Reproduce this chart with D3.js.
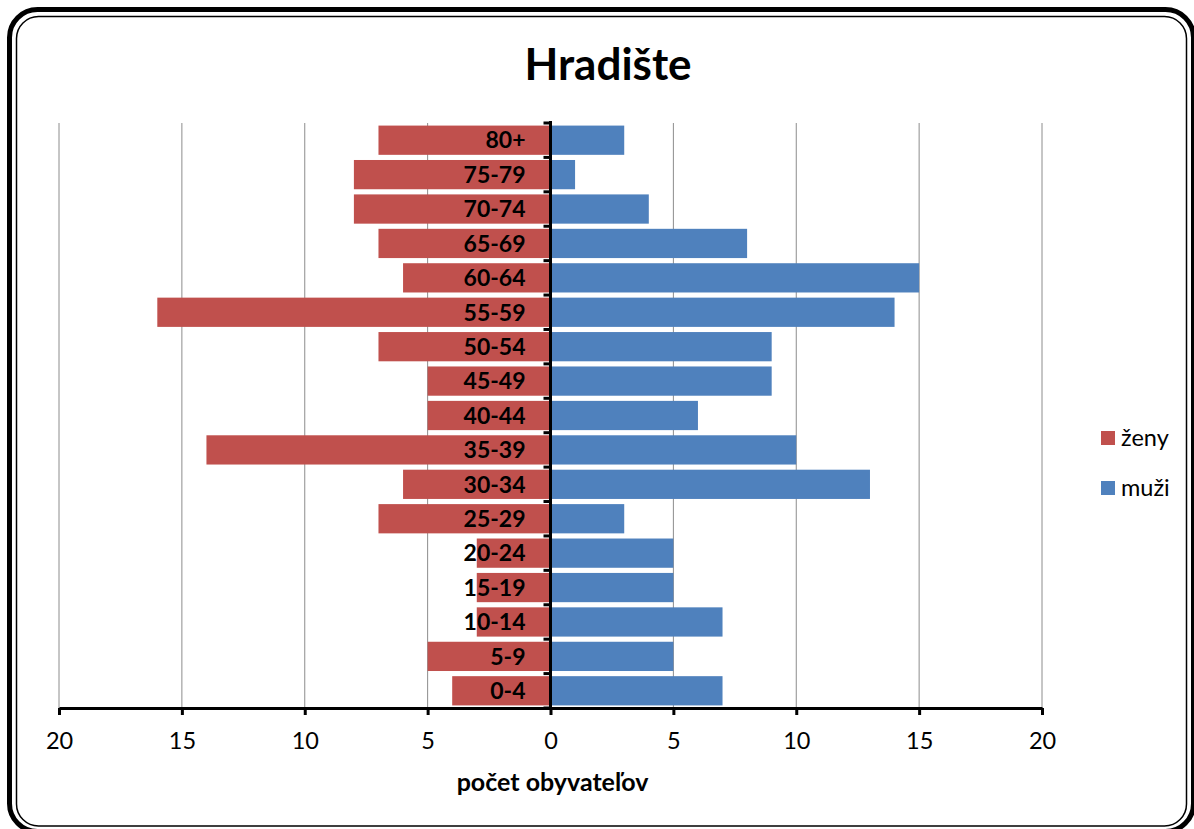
<!DOCTYPE html>
<html lang="sk">
<head>
  <meta charset="UTF-8">
  <title>Hradište</title>
  <style>
    body { margin: 0; background: #fff; }
    svg text { font-family: Lato, "Open Sans", sans-serif; fill: #000; }
    .grid line { stroke: #8c8c8c; stroke-width: 1; }
    .cat-label { font-size: 23px; font-weight: bold; }
  </style>
</head>
<body>
  <div id="chart"></div>
  <script src="https://d3js.org/d3.v7.min.js"></script>
  <script>
    // age groups, top to bottom
    const ageGroups = ["80+", "75-79", "70-74", "65-69", "60-64", "55-59", "50-54", "45-49",
      "40-44", "35-39", "30-34", "25-29", "20-24", "15-19", "10-14", "5-9", "0-4"];
    const zeny = [7, 8, 8, 7, 6, 16, 7, 5, 5, 14, 6, 7, 3, 3, 3, 5, 4];
    const muzi = [3, 1, 4, 8, 15, 14, 9, 9, 6, 10, 13, 3, 5, 5, 7, 5, 7];
    const xTicks = [-20, -15, -10, -5, 0, 5, 10, 15, 20];
    const seriesNames = ["ženy", "muži"];
    const colors = ["#C0504D", "#4F81BD"];

    const W = 1194, H = 829;
    const plot = { left: 59, right: 1042, top: 123, bottom: 708 };

    const svg = d3.select('#chart').append('svg')
      .attr('width', W).attr('height', H);

    // frame
    svg.append('rect')
      .attr('x', 9.5).attr('y', 9.5).attr('width', 1184).attr('height', 822)
      .attr('rx', 28).attr('fill', 'none').attr('stroke', '#000').attr('stroke-width', 5);
    svg.append('rect')
      .attr('x', 16.5).attr('y', 16.5).attr('width', 1170).attr('height', 809.5)
      .attr('rx', 22).attr('fill', 'none').attr('stroke', '#000').attr('stroke-width', 1.5);

    svg.append('text')
      .attr('x', 608).attr('y', 80)
      .attr('text-anchor', 'middle')
      .style('font-size', '44px').style('font-weight', 'bold')
      .text('Hradište');

    const x = d3.scaleLinear().domain([-20, 20]).range([plot.left, plot.right]);
    const y = d3.scaleBand().domain(ageGroups).range([plot.top, plot.bottom])
      .paddingInner(0.15).paddingOuter(0.075);

    // vertical gridlines
    svg.append('g').attr('class', 'grid')
      .selectAll('line')
      .data(xTicks.filter(d => d !== 0))
      .join('line')
      .attr('x1', d => x(d)).attr('x2', d => x(d))
      .attr('y1', plot.top).attr('y2', plot.bottom);

    const rows = ageGroups.map((g, i) => ({ g, z: zeny[i], m: muzi[i] }));

    svg.append('g').selectAll('rect')
      .data(rows).join('rect')
      .attr('x', d => x(-d.z)).attr('y', d => y(d.g))
      .attr('width', d => x(0) - 1.5 - x(-d.z)).attr('height', y.bandwidth())
      .attr('fill', colors[0]);

    svg.append('g').selectAll('rect')
      .data(rows).join('rect')
      .attr('x', x(0) + 1.5).attr('y', d => y(d.g))
      .attr('width', d => x(d.m) - x(0) - 1.5).attr('height', y.bandwidth())
      .attr('fill', colors[1]);

    // x axis
    const xAxis = svg.append('g').attr('class', 'x-axis')
      .attr('transform', `translate(0,${plot.bottom})`)
      .call(d3.axisBottom(x).tickValues(xTicks).tickFormat(d => Math.abs(d))
        .tickSize(7).tickSizeOuter(0).tickPadding(17));
    xAxis.select('.domain').attr('stroke', '#000').attr('stroke-width', 3);
    xAxis.selectAll('.tick line').attr('stroke', '#000').attr('stroke-width', 3);
    xAxis.selectAll('text').style('font-size', '23.5px').style('font-family', 'Lato, sans-serif');

    // central category axis with ticks at band boundaries
    const cat = svg.append('g');
    cat.append('line')
      .attr('x1', x(0)).attr('x2', x(0))
      .attr('y1', plot.top - 2).attr('y2', plot.bottom)
      .attr('stroke', '#000').attr('stroke-width', 3);
    const bounds = d3.range(ageGroups.length + 1).map(i => plot.top + i * (plot.bottom - plot.top) / ageGroups.length);
    cat.selectAll('line.t').data(bounds).join('line').attr('class', 't')
      .attr('x1', x(0) - 7).attr('x2', x(0))
      .attr('y1', d => d).attr('y2', d => d)
      .attr('stroke', '#000').attr('stroke-width', 3);

    svg.append('g').selectAll('text')
      .data(ageGroups).join('text')
      .attr('class', 'cat-label')
      .attr('x', x(0) - 25)
      .attr('y', d => y(d) + y.bandwidth() / 2)
      .attr('dy', '0.36em')
      .attr('text-anchor', 'end')
      .text(d => d);

    svg.append('text')
      .attr('x', x(0) + 2).attr('y', 791)
      .attr('text-anchor', 'middle')
      .style('font-size', '25px').style('font-weight', 'bold')
      .text('počet obyvateľov');

    // legend
    const legend = svg.append('g');
    seriesNames.forEach((name, i) => {
      const ly = 438 + i * 50;
      legend.append('rect')
        .attr('x', 1101).attr('y', ly - 7).attr('width', 14).attr('height', 14)
        .attr('fill', colors[i]);
      legend.append('text')
        .attr('x', 1121).attr('y', ly).attr('dy', '0.35em')
        .style('font-size', '23.5px')
        .text(name);
    });
  </script>
</body>
</html>
